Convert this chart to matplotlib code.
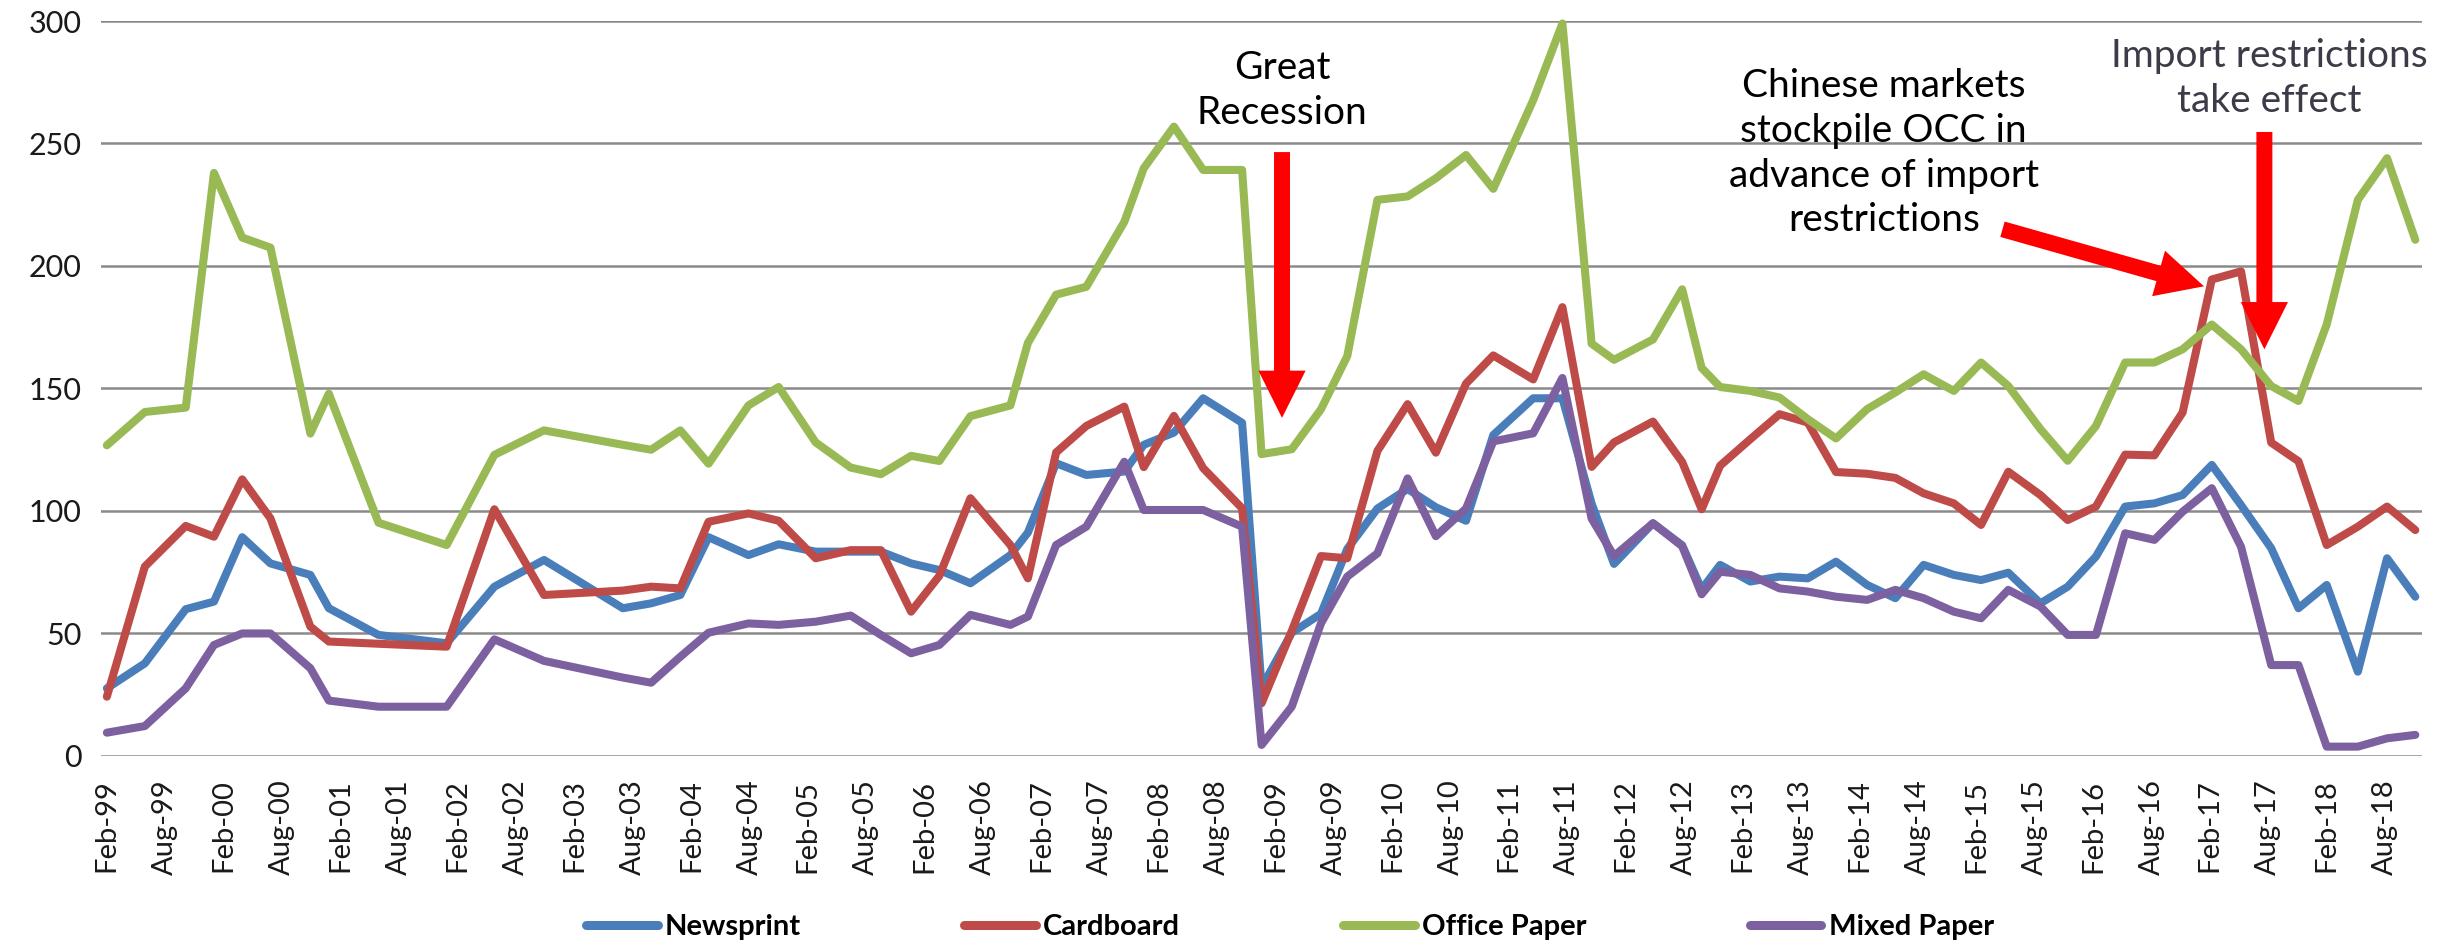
import matplotlib
matplotlib.use("Agg")
import matplotlib.pyplot as plt
from matplotlib.patches import FancyArrowPatch

plt.rcParams['font.family'] = ['Lato', 'DejaVu Sans']

# month offsets from Feb-1999 of each observation
months = [0, 3.9, 8.1, 11, 13.9, 16.8, 20.9, 22.8, 27.9, 34.9,
          39.8, 44.9, 53, 55.9, 58.9, 61.8, 65.9, 69, 72.8, 76.4,
          79.5, 82.6, 85.5, 88.7, 92.8, 94.6, 97.5, 100.6, 104.5, 106.5,
          109.6, 112.6, 116.6, 118.6, 121.7, 124.7, 127.4, 130.5, 133.6, 136.5,
          139.6, 142.4, 146.5, 149.5, 152.5, 154.8, 158.8, 161.8, 163.8, 165.7,
          168.8, 171.8, 174.7, 177.6, 180.8, 183.7, 186.6, 189.7, 192.5, 195.3,
          198.6, 201.4, 204.3, 207.3, 210.3, 213.2, 216.2, 219.2, 222.3, 225.1,
          228, 231.2, 234.2, 237.1]

newsprint = [27.6, 37.8, 59.9, 63, 89.3, 78.6, 73.9, 60.3, 49.4, 46,
             69.1, 80, 60.3, 62.3, 65.7, 89.3, 82, 86.4, 83.4, 83.4,
             83.4, 78.6, 75.9, 70.5, 82, 91.2, 119.5, 114.7, 116.1, 127,
             132, 146, 136, 28, 50.3, 58, 84.5, 101, 109, 101.5,
             96, 131, 146, 146, 103, 78.4, 95, 86, 68, 78,
             71.2, 73.2, 72.5, 79.3, 69.8, 64.4, 78, 73.9, 71.8, 74.8,
             62.3, 69.1, 81.4, 101.8, 103.1, 106.5, 118.8, 102.4, 84.8, 60.3,
             69.8, 34.4, 80.7, 65]

cardboard = [24.2, 77.3, 93.9, 89.5, 112.9, 97, 52.8, 46.7, 45.8, 44.6,
             100.7, 65.7, 67.5, 69.1, 68.4, 95.6, 99, 96, 80.7, 84,
             84, 58.9, 73.5, 105.2, 86.1, 72.5, 123.9, 134.7, 142.6, 117.9,
             138.8, 117.5, 101.1, 21.5, 51, 81.6, 80.7, 124.5, 143.6, 123.8,
             152, 163.5, 153.7, 183.2, 118, 128, 136.5, 120, 100.7, 118.5,
             129.3, 139.5, 136.1, 115.9, 115.2, 113.5, 107.2, 103.1, 94.3, 116,
             106.5, 96.3, 101.8, 123, 122.7, 140.2, 194.5, 197.8, 127.9, 120.3,
             86.1, 93.6, 101.8, 92.2]

office_paper = [126.8, 140.4, 142.2, 238, 211.6, 207.5, 131.6, 147.9, 95.2, 86.1,
                122.9, 132.9, 127, 125, 132.9, 119.3, 143.1, 150.6, 128, 117.7,
                115, 122.5, 120.4, 138.7, 143.1, 168.6, 188.3, 191.5, 218, 239.9,
                256.9, 239.2, 239.2, 123.2, 125.2, 141.5, 163.2, 227, 228.4, 235.8,
                245.3, 231.5, 267.7, 299, 168.3, 161.7, 170, 190.5, 158.4, 150.6,
                149, 146.3, 137.5, 129.6, 141.6, 148.4, 155.8, 149, 160.6, 151,
                133.4, 120.5, 134.7, 160.6, 160.6, 166, 176.1, 166, 151, 144.9,
                176.1, 227, 244, 210.7]

mixed_paper = [9.5, 12.2, 27.6, 45.3, 50, 50, 35.8, 22.6, 20.1, 20.1,
               47.6, 38.8, 32, 29.9, 40.5, 50.3, 54.1, 53.5, 54.8, 57.3,
               49.4, 41.9, 45.3, 57.6, 53.5, 56.9, 86.1, 93.6, 120.1, 100.4,
               100.4, 100.4, 93.6, 4.5, 20.1, 54.1, 73.2, 82.7, 113.3, 89.7,
               101, 128.4, 131.7, 154.3, 96.9, 81.6, 95, 85.6, 66, 75.2,
               73.9, 68.4, 67.1, 65, 63.7, 67.8, 64.4, 58.9, 56.2, 67.8,
               61, 49.4, 49.4, 90.9, 88.2, 99.7, 109.3, 85.4, 37.1, 37.1,
               3.8, 3.8, 7.2, 8.6]

series_names = ["Newsprint", "Cardboard", "Office Paper", "Mixed Paper"]
series_colors = ["#4A7EBB", "#BE4B48", "#98B954", "#7D60A0"]

tick_labels = ["Feb-99", "Aug-99", "Feb-00", "Aug-00", "Feb-01", "Aug-01", "Feb-02", "Aug-02",
               "Feb-03", "Aug-03", "Feb-04", "Aug-04", "Feb-05", "Aug-05", "Feb-06", "Aug-06",
               "Feb-07", "Aug-07", "Feb-08", "Aug-08", "Feb-09", "Aug-09", "Feb-10", "Aug-10",
               "Feb-11", "Aug-11", "Feb-12", "Aug-12", "Feb-13", "Aug-13", "Feb-14", "Aug-14",
               "Feb-15", "Aug-15", "Feb-16", "Aug-16", "Feb-17", "Aug-17", "Feb-18", "Aug-18"]
tick_positions = [6 * i for i in range(len(tick_labels))]

y_ticks = [0, 50, 100, 150, 200, 250, 300]

fig = plt.figure(figsize=(24.58, 9.42), dpi=100)
ax = fig.add_axes([0.0411, 0.1975, 0.9443, 0.7802])

lines = []
for name, vals, col in zip(series_names, [newsprint, cardboard, office_paper, mixed_paper], series_colors):
    ln, = ax.plot(months, vals, color=col, lw=5.8, label=name,
                  solid_joinstyle='round', solid_capstyle='round', zorder=3)
    lines.append(ln)

ax.set_xlim(-0.6, 237.8)
ax.set_ylim(0, 300)
ax.set_yticks(y_ticks)
ax.set_yticklabels([str(v) for v in y_ticks], fontsize=22, color='#1a1a1a')
ax.set_xticks(tick_positions)
ax.set_xticklabels(tick_labels, rotation=90, fontsize=21, color='#1a1a1a')
ax.tick_params(axis='x', length=0, pad=17)
ax.tick_params(axis='y', length=0, pad=14)
for sp in ax.spines.values():
    sp.set_visible(False)
ax.yaxis.grid(True, color='#8a8a8a', lw=1.8, zorder=1)
ax.xaxis.grid(False)
ax.set_axisbelow(True)
for ln in lines:
    ln.set_clip_on(False)

# annotations
ax.text(120.7, 271.6, "Great\nRecession", ha='center', va='center', fontsize=28,
        color='black', linespacing=1.3)
ax.text(182.5, 246, "Chinese markets\nstockpile OCC in\nadvance of import\nrestrictions",
        ha='center', va='center', fontsize=28, color='black', linespacing=1.3)
ax.text(222.1, 276.4, "Import restrictions\ntake effect", ha='center', va='center',
        fontsize=28, color='#3c3c48', linespacing=1.3)

arrow_style = "simple,head_length=34,head_width=34,tail_width=11.5"
for tail, tip in [((120.7, 246.5), (120.7, 138)),
                  ((221.6, 254.7), (221.6, 166)),
                  ((194.7, 215.0), (215.4, 191.7))]:
    arr = FancyArrowPatch(tail, tip, arrowstyle=arrow_style, mutation_scale=1,
                          color='#FF0000', lw=0, shrinkA=0, shrinkB=0, zorder=5)
    ax.add_patch(arr)

leg = fig.legend(handles=lines, labels=series_names, loc='center', ncol=4,
                 bbox_to_anchor=(0.5248, 0.0159), frameon=False,
                 prop={'weight': 'bold', 'size': 21}, handlelength=2.45,
                 handletextpad=0.25, columnspacing=5.6, borderpad=0)
for h in leg.legend_handles:
    h.set_linewidth(6.5)

fig.savefig("out.png", dpi=100)
